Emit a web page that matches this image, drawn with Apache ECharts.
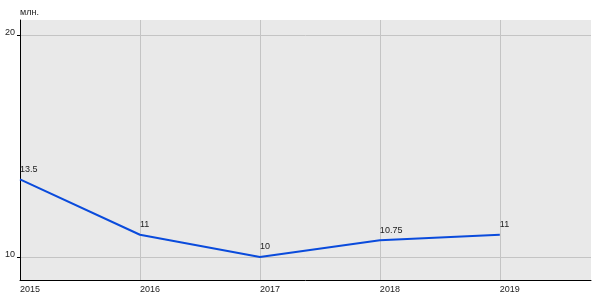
<!DOCTYPE html>
<html><head><meta charset="utf-8">
<script src="https://cdn.jsdelivr.net/npm/echarts@6/dist/echarts.min.js"></script>
<style>html,body{margin:0;padding:0;background:#fff}#c{width:600px;height:300px}</style>
</head><body><div id="c"></div>
<script>
const years = [2015, 2016, 2017, 2018, 2019];
const values = [13.5, 11, 10, 10.75, 11];
const yTicks = [10, 20];
const unitLabel = 'млн.';

const chart = echarts.init(document.getElementById('c'), null, {renderer: 'canvas'});
const font = 'Liberation Sans, Arial, sans-serif';
chart.setOption({
  animation: false,
  grid: {left: 20, right: 9, top: 20, bottom: 20, show: true, backgroundColor: '#e9e9e9', borderWidth: 0},
  title: {text: unitLabel, left: 20, top: 8, padding: 0, textStyle: {fontSize: 9, fontWeight: 'normal', color: '#222', fontFamily: font}},
  xAxis: {
    type: 'value', min: 2015, max: 2019.76,
    axisLine: {show: true, lineStyle: {color: '#000', width: 1}},
    axisTick: {show: false, customValues: years},
    splitLine: {show: true, lineStyle: {color: '#c4c4c4', width: 1}},
    axisLabel: {customValues: years, align: 'left', margin: 5, fontSize: 9, color: '#222', fontFamily: font, formatter: v => String(v)}
  },
  yAxis: {
    type: 'value', min: 8.96, max: 20.68,
    axisLine: {show: true, lineStyle: {color: '#000', width: 1}},
    axisTick: {show: true, length: 3, customValues: yTicks, lineStyle: {color: '#000'}},
    splitLine: {show: true, lineStyle: {color: '#c4c4c4', width: 1}},
    axisLabel: {customValues: yTicks, margin: 5, fontSize: 9, color: '#222', fontFamily: font, verticalAlign: 'bottom', padding: [0, 0, -2, 0]}
  },
  series: [{
    type: 'line',
    data: years.map((y, i) => [y, values[i]]),
    lineStyle: {color: '#0a4bdc', width: 2},
    itemStyle: {color: 'rgba(0,0,0,0)', borderWidth: 0},
    symbol: 'circle', symbolSize: 1, showSymbol: true,
    label: {show: true, position: 'top', align: 'left', distance: 5, fontSize: 9, color: '#222', fontFamily: font}
  }]
});
</script></body></html>
